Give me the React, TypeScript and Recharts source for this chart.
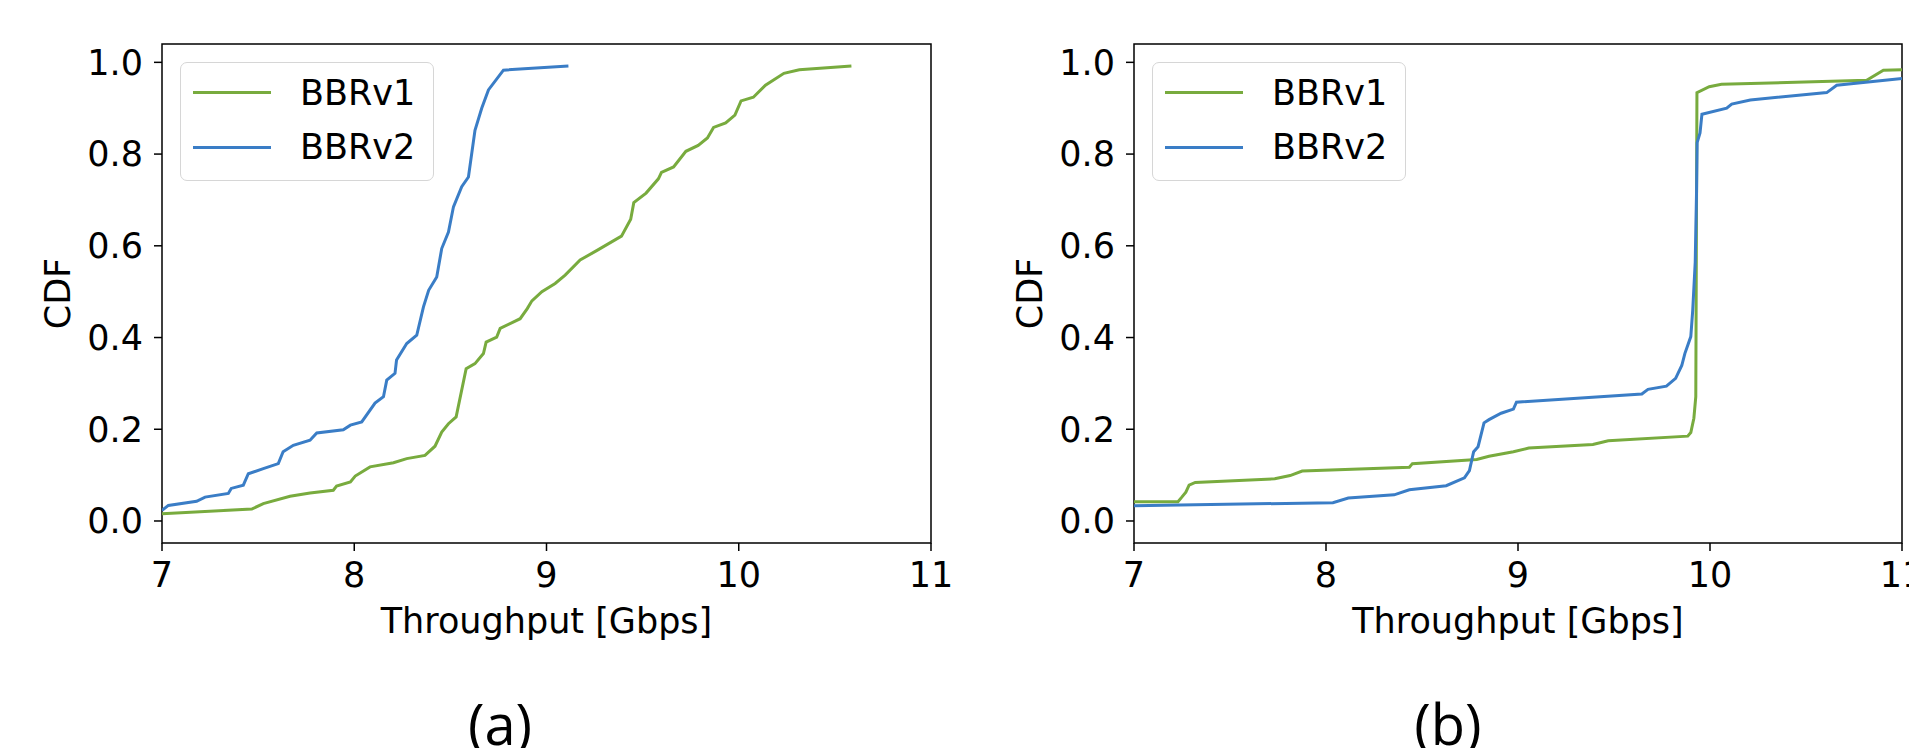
import React from 'react';
import { LineChart, Line, XAxis, YAxis, ReferenceArea } from 'recharts';

// ---- data ----
const xTicks = [7, 8, 9, 10, 11];
const yTicks = [0, 0.2, 0.4, 0.6, 0.8, 1.0];
const seriesNames = ['BBRv1', 'BBRv2'];
const panelLabels = ['(a)', '(b)'];

const aV1Throughput = [7.0, 7.467, 7.527, 7.666, 7.77, 7.891, 7.908, 7.98, 8.005, 8.082, 8.204, 8.273, 8.368, 8.42, 8.455, 8.49, 8.53, 8.582, 8.628, 8.672, 8.686, 8.741, 8.759, 8.863, 8.9, 8.924, 8.976, 9.045, 9.097, 9.175, 9.263, 9.39, 9.438, 9.454, 9.518, 9.582, 9.598, 9.661, 9.725, 9.789, 9.837, 9.869, 9.932, 9.98, 10.012, 10.076, 10.139, 10.235, 10.315, 10.586];
const aV1Cdf = [0.016, 0.026, 0.038, 0.054, 0.061, 0.067, 0.076, 0.085, 0.098, 0.118, 0.127, 0.136, 0.143, 0.163, 0.194, 0.212, 0.227, 0.332, 0.343, 0.365, 0.39, 0.401, 0.42, 0.441, 0.463, 0.48, 0.5, 0.518, 0.536, 0.569, 0.59, 0.621, 0.658, 0.694, 0.715, 0.746, 0.76, 0.772, 0.806, 0.819, 0.835, 0.858, 0.868, 0.885, 0.916, 0.924, 0.95, 0.976, 0.984, 0.992];

const aV2Throughput = [7.0, 7.033, 7.18, 7.224, 7.345, 7.36, 7.423, 7.449, 7.527, 7.605, 7.63, 7.683, 7.77, 7.805, 7.943, 7.98, 8.039, 8.108, 8.152, 8.169, 8.212, 8.22, 8.273, 8.325, 8.36, 8.387, 8.429, 8.455, 8.49, 8.516, 8.559, 8.594, 8.628, 8.663, 8.698, 8.776, 9.114];
const aV2Cdf = [0.023, 0.034, 0.043, 0.052, 0.06, 0.071, 0.078, 0.103, 0.114, 0.125, 0.151, 0.165, 0.176, 0.192, 0.199, 0.209, 0.216, 0.257, 0.271, 0.307, 0.322, 0.351, 0.387, 0.405, 0.467, 0.503, 0.532, 0.594, 0.63, 0.685, 0.729, 0.75, 0.852, 0.9, 0.94, 0.983, 0.992];

const bV1Throughput = [7.0, 7.229, 7.249, 7.27, 7.287, 7.319, 7.733, 7.813, 7.876, 8.434, 8.45, 8.785, 8.849, 8.976, 9.056, 9.39, 9.47, 9.884, 9.9, 9.916, 9.926, 9.932, 9.996, 10.06, 10.816, 10.903, 11.0];
const bV1Cdf = [0.042, 0.042, 0.052, 0.063, 0.078, 0.084, 0.092, 0.099, 0.109, 0.117, 0.125, 0.134, 0.141, 0.151, 0.159, 0.167, 0.175, 0.185, 0.193, 0.224, 0.271, 0.934, 0.947, 0.952, 0.961, 0.983, 0.984];

const bV2Throughput = [7.0, 8.036, 8.116, 8.355, 8.434, 8.626, 8.721, 8.747, 8.769, 8.792, 8.823, 8.849, 8.912, 8.976, 8.992, 9.645, 9.677, 9.773, 9.821, 9.853, 9.869, 9.9, 9.91, 9.923, 9.93, 9.933, 9.948, 9.958, 10.087, 10.113, 10.21, 10.608, 10.66, 11.0];
const bV2Cdf = [0.033, 0.04, 0.05, 0.057, 0.068, 0.077, 0.094, 0.11, 0.151, 0.162, 0.214, 0.221, 0.235, 0.244, 0.259, 0.277, 0.287, 0.294, 0.311, 0.339, 0.365, 0.402, 0.459, 0.564, 0.72, 0.825, 0.846, 0.887, 0.9, 0.909, 0.918, 0.934, 0.95, 0.965];

const zip = (xs: number[], ys: number[]) => xs.map((x, i) => ({ x, cdf: ys[i] }));

const GREEN = '#78ab3e';
const BLUE = '#3a7dc6';
const FONT = 'DejaVu Sans, sans-serif';
const FS = 35;

const LegendBox = ({ left }: { left: number }) => (
  <div
    style={{
      position: 'absolute',
      left,
      top: 62,
      width: 254,
      height: 119,
      boxSizing: 'border-box',
      border: '1.5px solid #d6d6d6',
      borderRadius: 7,
      background: 'rgba(255,255,255,0.85)',
      fontFamily: FONT,
      fontSize: FS,
      color: '#000',
    }}
  >
    {seriesNames.map((n, i) => (
      <div key={n} style={{ position: 'absolute', left: 0, top: i === 0 ? 29.7 - 21 : 84 - 21, height: 42, width: '100%' }}>
        <div style={{ position: 'absolute', left: 12, top: 19.5, width: 78, height: 3, background: i === 0 ? GREEN : BLUE }} />
        <div style={{ position: 'absolute', left: 119, top: 0, lineHeight: '42px', whiteSpace: 'nowrap' }}>{n}</div>
      </div>
    ))}
  </div>
);

type PanelProps = {
  width: number;
  yAxisWidth: number;
  marginRight: number;
  v1: { x: number; cdf: number }[];
  v2: { x: number; cdf: number }[];
};

const Panel = ({ width, yAxisWidth, marginRight, v1, v2 }: PanelProps) => (
  <LineChart width={width} height={748} margin={{ top: 44, right: marginRight, bottom: 0, left: 0 }} style={{ fontFamily: FONT }}>
    <XAxis
      type="number"
      dataKey="x"
      domain={[7, 11]}
      ticks={xTicks}
      interval={0}
      allowDataOverflow
      height={205}
      axisLine={false}
      tickLine={{ stroke: '#000', strokeWidth: 1.5 }}
      tickSize={8}
      tickMargin={11}
      tick={{ fontSize: FS, fill: '#000', fontFamily: FONT }}
      label={{
        content: (p: any) => {
          const vb = p.viewBox || {};
          return (
            <text x={vb.x + vb.width / 2} y={vb.y + 90} textAnchor="middle" fontSize={FS} fontFamily={FONT} fill="#000">
              Throughput [Gbps]
            </text>
          );
        },
      }}
    />
    <YAxis
      type="number"
      domain={[-0.048, 1.04]}
      ticks={yTicks}
      interval={0}
      allowDataOverflow
      width={yAxisWidth}
      axisLine={false}
      tickLine={{ stroke: '#000', strokeWidth: 1.5 }}
      tickSize={8}
      tickMargin={11}
      tickFormatter={(v: number) => v.toFixed(1)}
      tick={{ fontSize: FS, fill: '#000', fontFamily: FONT }}
      label={{
        content: (p: any) => {
          const vb = p.viewBox || {};
          const cx = vb.x + vb.width - 104;
          const cy = vb.y + vb.height / 2;
          return (
            <text x={cx} y={cy} transform={`rotate(-90 ${cx} ${cy})`} textAnchor="middle" dominantBaseline="central" fontSize={FS} fontFamily={FONT} fill="#000">
              CDF
            </text>
          );
        },
      }}
    />
    <Line data={v1} dataKey="cdf" name="BBRv1" type="linear" stroke={GREEN} strokeWidth={3} dot={false} isAnimationActive={false} />
    <Line data={v2} dataKey="cdf" name="BBRv2" type="linear" stroke={BLUE} strokeWidth={3} dot={false} isAnimationActive={false} />
    <ReferenceArea x1={7} x2={11} y1={-0.048} y2={1.04} fill="none" stroke="#000" strokeWidth={1.5} ifOverflow="visible" />
  </LineChart>
);

export default function App() {
  return (
    <div style={{ position: 'absolute', left: 0, top: 0, width: 1909, height: 748, background: '#fff', overflow: 'hidden' }}>
      <svg width={1909} height={748} style={{ position: 'absolute', left: 0, top: 0 }}>
        <text x={500} y={745} textAnchor="middle" fontSize={56} fontFamily="Open Sans, sans-serif" fill="#000">
          {panelLabels[0]}
        </text>
        <text x={1448} y={745} textAnchor="middle" fontSize={56} fontFamily="Open Sans, sans-serif" fill="#000">
          {panelLabels[1]}
        </text>
      </svg>
      <div style={{ position: 'absolute', left: 0, top: 0, width: 960, height: 748 }}>
        <Panel width={960} yAxisWidth={162} marginRight={29} v1={zip(aV1Throughput, aV1Cdf)} v2={zip(aV2Throughput, aV2Cdf)} />
        <LegendBox left={180} />
      </div>
      <div style={{ position: 'absolute', left: 960, top: 0, width: 949, height: 748 }}>
        <Panel width={949} yAxisWidth={174} marginRight={7} v1={zip(bV1Throughput, bV1Cdf)} v2={zip(bV2Throughput, bV2Cdf)} />
        <LegendBox left={192} />
      </div>
    </div>
  );
}
